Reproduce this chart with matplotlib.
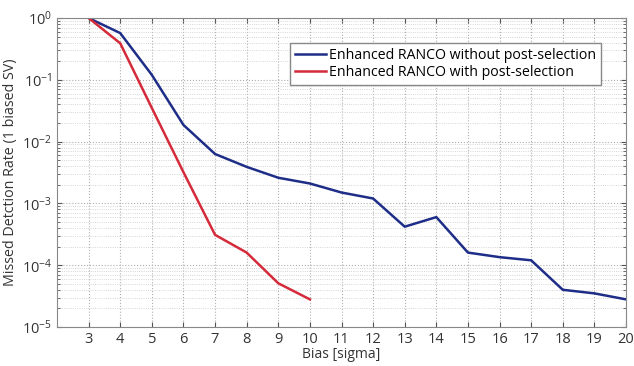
import matplotlib.pyplot as plt
from matplotlib.ticker import LogLocator, FixedLocator, NullFormatter

plt.rcParams['font.family'] = ['Open Sans', 'DejaVu Sans']

bias = [3, 4, 5, 6, 7, 8, 9, 10, 11, 12, 13, 14, 15, 16, 17, 18, 19, 20]
rate_without = [1.0, 0.57, 0.12, 0.0186, 0.0063, 0.0039, 0.0026, 0.0021, 0.0015,
                0.0012, 0.00042, 0.0006, 0.00016, 0.000135, 0.00012, 0.00004,
                0.000035, 0.000028]

bias_with = [3, 4, 5, 6, 7, 8, 9, 10]
rate_with = [1.0, 0.39, 0.035, 0.0032, 0.00031, 0.00016, 0.000051, 0.000028]

labels = ['Enhanced RANCO without post-selection', 'Enhanced RANCO with post-selection']

fig = plt.figure(figsize=(6.34, 3.66), dpi=100)
ax = fig.add_axes([57 / 634, 1 - 327 / 366, 569 / 634, 309 / 366])

ax.semilogy(bias, rate_without, color='#1e2d87', lw=1.8, label=labels[0])
ax.semilogy(bias_with, rate_with, color='#d42a3a', lw=1.8, label=labels[1])

ax.set_xlim(2, 20)
ax.set_ylim(1e-5, 1)
ax.xaxis.set_major_locator(FixedLocator(bias))
ax.yaxis.set_major_locator(LogLocator(base=10, numticks=10))
ax.yaxis.set_minor_locator(LogLocator(base=10, subs=range(2, 10), numticks=10))
ax.yaxis.set_minor_formatter(NullFormatter())

ax.grid(True, which='major', ls=':', color='#b0b0b0', lw=0.8)
ax.grid(True, which='minor', axis='y', ls=':', color='#c8c8c8', lw=0.6)
ax.tick_params(which='both', direction='in', top=True, right=True, labelsize=10.5,
               colors='#555555', labelcolor='#333333')
for s in ax.spines.values():
    s.set_color('#888888')

ax.set_xlabel('Bias [sigma]', fontsize=10, color='#333333', labelpad=0)
ax.set_ylabel('Missed Detction Rate (1 biased SV)', fontsize=10.3, color='#333333', labelpad=3)

leg = ax.legend(loc='upper left', bbox_to_anchor=(0.41, 0.92), fontsize=10.2,
                fancybox=False, framealpha=1, edgecolor='#888888', borderaxespad=0,
                handlelength=2.2, handletextpad=0.2, borderpad=0.35, labelspacing=0.15)

fig.savefig('out.png', dpi=100)
